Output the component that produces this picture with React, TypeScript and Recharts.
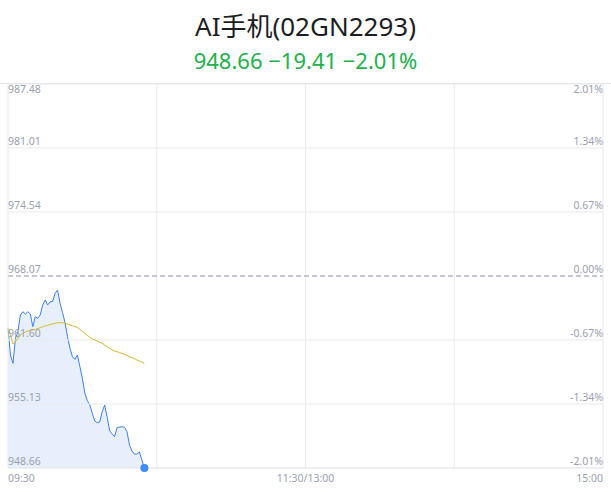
import { ComposedChart, Area, Line, XAxis, YAxis, ReferenceLine, ReferenceDot } from 'recharts'

const prevClose = 968.07
const priceTicks = [948.66, 955.13, 961.6, 968.07, 974.54, 981.01, 987.48]
const pctTicks = ['-2.01%', '-1.34%', '-0.67%', '0.00%', '0.67%', '1.34%', '2.01%']
const timeTicks = [0, 60, 120, 180, 240]
const timeLabels: Record<number, string> = { 0: '09:30', 120: '11:30/13:00', 240: '15:00' }

// minutes since 09:30
const prices = [
    962.78, 960.08, 959.24, 961.77, 962.44, 964.13, 964.46, 964.23, 964.46, 964.23,
    962.95, 963.96, 963.79, 964.13, 965.14, 965.64, 965.14, 965.48, 965.48, 966.32,
    966.65, 965.31, 964.36, 963.35, 961.94, 960.76, 959.91, 959.64, 960.08, 958.9,
    957.72, 956.21, 955.47, 955.03, 954.19, 953.41, 953.24, 953.31, 954.35, 955.03,
    953.78, 952.43, 952.1, 951.83, 952.74, 952.8, 952.84, 952.77, 952.33, 950.98,
    950.38, 950.07, 950.07, 950.28, 949.47, 948.66,
]
const avgPrices = [
    962.88, 962.11, 961.2, 961.43, 961.77, 962.11, 962.27, 962.41, 962.51, 962.58,
    962.61, 962.68, 962.75, 962.85, 962.95, 963.02, 963.08, 963.15, 963.22, 963.28,
    963.35, 963.35, 963.35, 963.28, 963.22, 963.12, 963.05, 962.95, 962.88, 962.68,
    962.48, 962.27, 962.07, 961.87, 961.7, 961.6, 961.5, 961.36, 961.26, 961.09,
    960.93, 960.76, 960.59, 960.49, 960.42, 960.32, 960.25, 960.15, 960.05, 959.91,
    959.81, 959.71, 959.58, 959.48, 959.38, 959.24,
]

const data = prices.map((p, i) => ({ t: i, price: p, avg: avgPrices[i] }))
const last = data[data.length - 1]

const labelColor = '#9a9fb0'
const gridColor = '#e9e9ef'

function LeftTick(props: any) {
    const { x, y, payload } = props
    const top = payload.value === priceTicks[priceTicks.length - 1]
    return (
        <text x={x - 8} y={top ? y + 9 : y - 3} fontSize={10.5} fill={labelColor} textAnchor="start">
            {payload.value.toFixed(2)}
        </text>
    )
}

function RightTick(props: any) {
    const { x, y, payload } = props
    const idx = priceTicks.indexOf(payload.value)
    const top = idx === priceTicks.length - 1
    return (
        <text x={x + 8} y={top ? y + 9 : y - 3} fontSize={10.5} fill={labelColor} textAnchor="end">
            {pctTicks[idx]}
        </text>
    )
}

function TimeTick(props: any) {
    const { x, y, payload } = props
    const label = timeLabels[payload.value]
    if (!label) return null
    const anchor = payload.value === 0 ? 'start' : payload.value === 240 ? 'end' : 'middle'
    return (
        <text x={x} y={y + 6} fontSize={10.5} fill={labelColor} textAnchor={anchor}>
            {label}
        </text>
    )
}

export default function App() {
    return (
        <div
            style={{
                position: 'fixed',
                left: 0,
                top: 0,
                width: 611,
                height: 492,
                background: '#fff',
                fontFamily: '"Noto Sans", "Noto Sans CJK SC", sans-serif',
            }}
        >
            <div style={{ position: 'absolute', top: 8, width: 611, textAlign: 'center', fontSize: 26, color: '#1d1d24', lineHeight: '36px' }}>
                AI手机(02GN2293)
            </div>
            <div style={{ position: 'absolute', top: 44, width: 611, textAlign: 'center', fontSize: 22, color: '#22b04b', lineHeight: '32px' }}>
                948.66 −19.41 −2.01%
            </div>
            <div style={{ position: 'absolute', top: 83, left: 0, width: 611, height: 1, background: '#e3e3ea' }} />
            <div style={{ position: 'absolute', top: 0, left: 0 }}>
                <ComposedChart
                    width={611}
                    height={492}
                    data={data}
                    margin={{ top: 84, right: 8, bottom: 0, left: 8 }}
                    style={{ fontFamily: '"Noto Sans", sans-serif' }}
                >
                    <XAxis
                        dataKey="t"
                        type="number"
                        domain={[0, 240]}
                        ticks={timeTicks}
                        tick={<TimeTick />}
                        tickLine={false}
                        axisLine={{ stroke: gridColor }}
                        height={24}
                        interval={0}
                    />
                    <YAxis
                        yAxisId="left"
                        domain={[priceTicks[0], priceTicks[priceTicks.length - 1]]}
                        ticks={priceTicks}
                        tick={<LeftTick />}
                        tickLine={false}
                        axisLine={{ stroke: gridColor }}
                        mirror
                        interval={0}
                        allowDataOverflow
                    />
                    <YAxis
                        yAxisId="right"
                        orientation="right"
                        domain={[priceTicks[0], priceTicks[priceTicks.length - 1]]}
                        ticks={priceTicks}
                        tick={<RightTick />}
                        tickLine={false}
                        axisLine={{ stroke: gridColor }}
                        mirror
                        interval={0}
                        allowDataOverflow
                    />
                    {priceTicks
                        .filter((v) => v !== prevClose)
                        .map((v) => (
                            <ReferenceLine key={v} yAxisId="left" y={v} stroke={gridColor} />
                        ))}
                    {timeTicks.slice(1, -1).map((t) => (
                        <ReferenceLine key={t} yAxisId="left" x={t} stroke={gridColor} />
                    ))}
                    <ReferenceLine yAxisId="left" y={prevClose} stroke="#8c92a6" strokeDasharray="5 3" />
                    <Area
                        yAxisId="left"
                        dataKey="price"
                        type="linear"
                        stroke="#3d7ff2"
                        strokeWidth={1}
                        fill="#e8effc"
                        fillOpacity={1}
                        dot={false}
                        activeDot={false}
                        isAnimationActive={false}
                    />
                    <Line
                        yAxisId="left"
                        dataKey="avg"
                        type="linear"
                        stroke="#d6b72c"
                        strokeWidth={1}
                        dot={false}
                        activeDot={false}
                        isAnimationActive={false}
                    />
                    <Line
                        yAxisId="right"
                        dataKey="price"
                        stroke="none"
                        dot={false}
                        activeDot={false}
                        legendType="none"
                        isAnimationActive={false}
                    />
                    <ReferenceDot yAxisId="left" x={last.t} y={last.price} r={4} fill="#3d8bfd" stroke="none" />
                </ComposedChart>
            </div>
        </div>
    )
}
